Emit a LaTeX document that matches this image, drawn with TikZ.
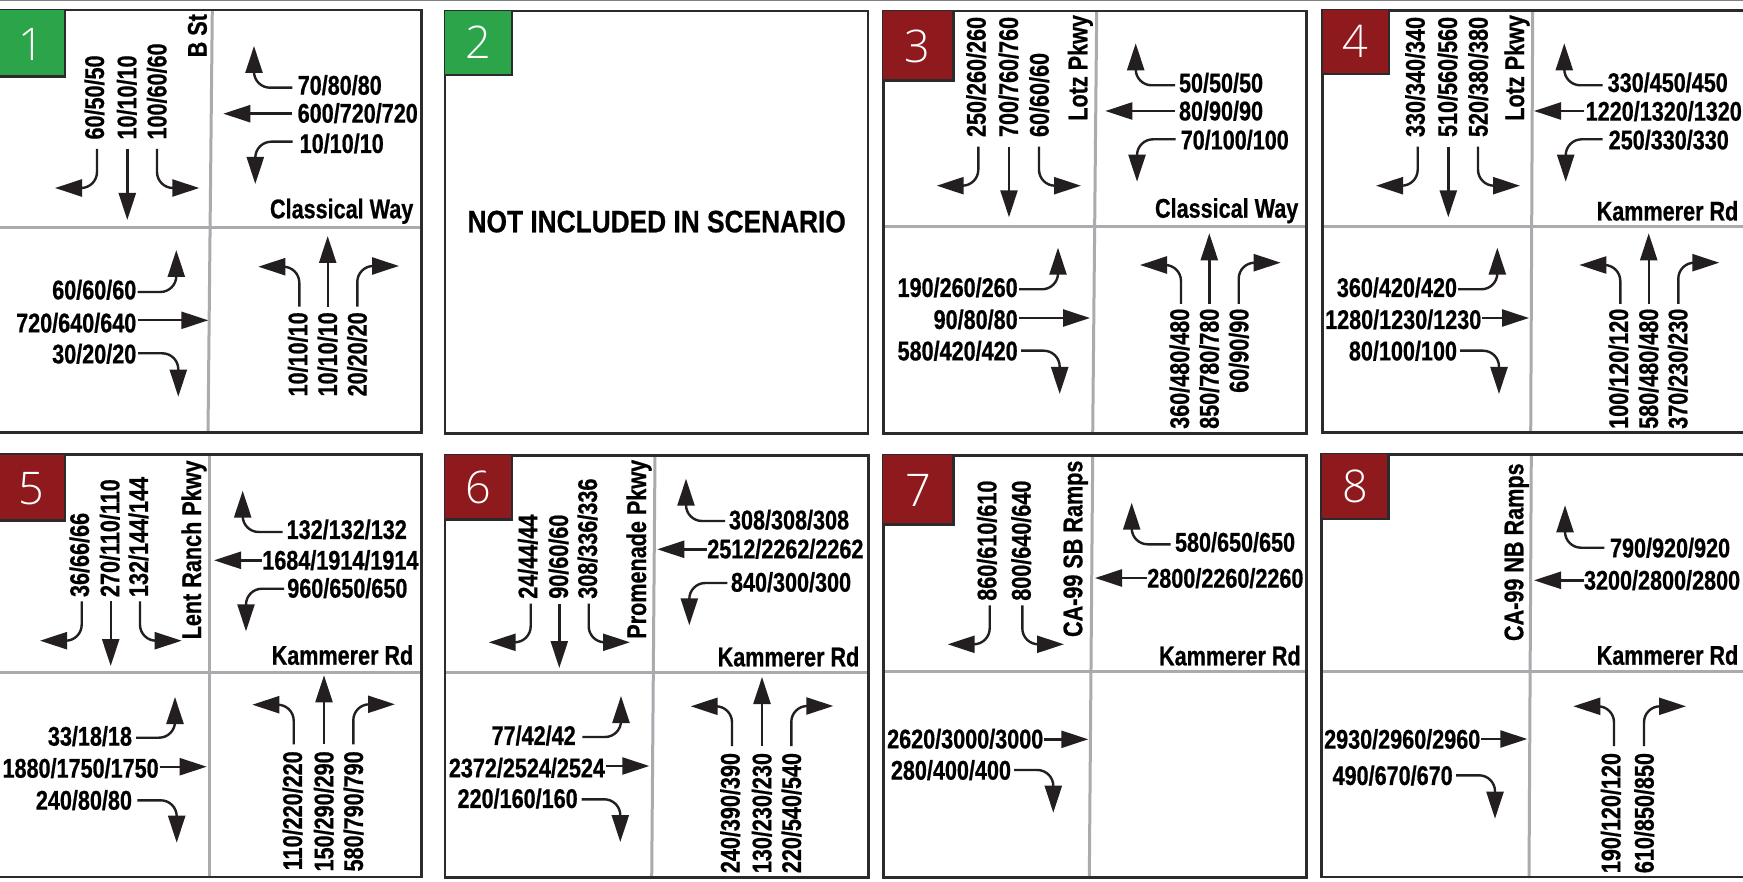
\documentclass[tikz,border=0pt]{standalone}
\usepackage{fontspec}
\usetikzlibrary{arrows.meta}
\setmainfont{Liberation Sans}
\newfontfamily\narrowf[FakeStretch=0.8,BoldFeatures={FakeStretch=0.8,FakeBold=0.7}]{Liberation Sans}
\newfontfamily\wideNf[FakeStretch=0.848,BoldFeatures={FakeStretch=0.848,FakeBold=0.7}]{Liberation Sans}
\newfontfamily\numf{Open Sans Light}
\definecolor{frameC}{HTML}{2B2A2C}
\definecolor{roadC}{HTML}{A9ABAE}
\definecolor{goodC}{HTML}{2BA44A}
\definecolor{badC}{HTML}{8F1A1E}
\definecolor{inkC}{HTML}{231F20}
\tikzset{
  lbl/.style={inner sep=0pt,outer sep=0pt,text height=19.3pt,text depth=0pt,
    font=\narrowf\bfseries\fontsize{27}{27}\selectfont,text=black},
  road/.style={inner sep=0pt,outer sep=0pt,font=\narrowf\bfseries\fontsize{27}{27}\selectfont,text=black},
  flow/.style={draw=inkC,line width=2.4pt,rounded corners=16pt,
    -{Triangle[length=27pt,width=17pt]}},
  frameline/.style={draw=frameC,line width=2.6pt},
  roadline/.style={draw=roadC,line width=3pt},
  badgenum/.style={inner sep=0pt,text=white,font=\numf\fontsize{45}{45}\selectfont}
}
\newcommand{\fl}[8]{% #1 name, #2 kind (T,B,L,R), #3 x, #4 y, #5 text, #6 sx,sy #7 tx,ty #8 op
  \def\kind{#2}%
  \def\tmpT{T}\def\tmpB{B}\def\tmpL{L}%
  \ifx\kind\tmpT \def\anch{west}\def\rot{90}\else
  \ifx\kind\tmpB \def\anch{east}\def\rot{90}\else
  \ifx\kind\tmpL \def\anch{east}\def\rot{0}\else
  \def\anch{west}\def\rot{0}\fi\fi\fi
  \node[lbl,rotate=\rot,anchor=\anch] (#1) at (#3,#4) {#5};
  \coordinate (#1t) at (#7);
  \coordinate (#1s) at (#6);
  \draw[flow] ([shift={(#1s)},shift={(-#3,-#4)}]#1.\anch) #8 (#1t);
}
\newcommand{\panel}[9]{% #1 l, #2 t, #3 r, #4 b, #5 vtop x, #6 vbot x, #7 hy, #8 badge x, #9 badge y
  \draw[roadline] (#5,#2) -- (#6,#4+1);
  \draw[roadline] (#1,#7) -- (#3,#7);
  \draw[frameline] (#1,#2) rectangle (#3,#4);
  \def\bx{#8}\def\by{#9}\def\pl{#1}\def\pt{#2}%
}
\newcommand{\badge}[5]{% #1 name, #2 colour, #3 digit, #4 cx, #5 cy
  \fill[#2] (\pl,\pt) rectangle (\bx,\by);
  \draw[frameline] (\pl,\by) -- (\bx,\by) -- (\bx,\pt);
  \node[badgenum] (#1) at (#4,#5) {#3};
}
\newcommand{\rv}[4]{\node[road,rotate=90,anchor=base west] (#1) at (#2,#3) {#4};}
\newcommand{\rh}[4]{\node[road,anchor=base east] (#1) at (#2,#3) {#4};}
\begin{document}
\begin{tikzpicture}[x=1pt,y=-1pt]
\useasboundingbox (0,0) rectangle (1743,882);
\fill[white] (0,0) rectangle (1743,882);
\draw[draw=gray,line width=1pt] (0,0.5) -- (1743,0.5);

% ---- 1
\panel{-3}{10}{421.7}{432.7}{212.3}{208}{227.7}{65}{76.3}
\badge{b1}{goodC}{1}{31}{44}
\rv{r1a}{206.7}{57.3}{B St}
\rh{r1b}{413.3}{218.3}{Classical Way}
\fl{a1}{T}{94.3}{139.5}{60/50/50}{97,149}{55,188}{|-}
\fl{a2}{T}{126.7}{139.5}{10/10/10}{127.3,149}{127.3,220}{--}
\fl{a3}{T}{156.7}{139.5}{100/60/60}{157,149}{199.3,188}{|-}
\fl{a4}{R}{297.7}{85}{70/80/80}{292.3,87.7}{254,46}{-|}
\fl{a5}{R}{297.7}{113}{600/720/720}{292,113.7}{223.3,113.7}{--}
\fl{a6}{R}{299.7}{143.3}{10/10/10}{292.7,141.7}{255.3,184}{-|}
\fl{a7}{L}{136.3}{289.7}{60/60/60}{137.5,292}{176.3,250}{-|}
\fl{a8}{L}{136.3}{322.7}{720/640/640}{137.5,320.3}{208.3,320.3}{--}
\fl{a9}{L}{136.3}{353.7}{30/20/20}{138,353.3}{178.3,396.7}{-|}
\fl{a10}{B}{297.7}{312.3}{10/10/10}{299.3,306.7}{258.3,266.7}{|-}
\fl{a11}{B}{327.3}{312.3}{10/10/10}{327.7,306.7}{327.7,236}{--}
\fl{a12}{B}{357}{312.3}{20/20/20}{357.3,306.7}{399,266}{|-}

% ---- 2
\draw[frameline] (445,11) rectangle (868,433.3);
\def\pl{445}\def\pt{11}\def\bx{512}\def\by{75}
\badge{b2}{goodC}{2}{478}{42.7}
\node[inner sep=0pt,anchor=base,text=black,font=\wideNf\bfseries\fontsize{31}{31}\selectfont] (n2) at (656.7,232.3) {NOT INCLUDED IN SCENARIO};

% ---- 3
\panel{883.3}{11}{1306.7}{433.3}{1096.7}{1092.7}{226.7}{953.3}{80.3}
\badge{b3}{badC}{3}{917.7}{46}
\rv{r3a}{1087.3}{120.7}{Lotz Pkwy}
\rh{r3b}{1298.3}{217.7}{Classical Way}
\fl{c1}{T}{976}{137}{250/260/260}{978.3,146.7}{936.7,185.7}{|-}
\fl{c2}{T}{1008.3}{137}{700/760/760}{1009,146.7}{1009,217.3}{--}
\fl{c3}{T}{1039}{137}{60/60/60}{1039,146.7}{1081,185.7}{|-}
\fl{c4}{R}{1179}{82.7}{50/50/50}{1175,85.3}{1135.7,43.3}{-|}
\fl{c5}{R}{1179}{110.7}{80/90/90}{1175,111}{1105.3,111}{--}
\fl{c6}{R}{1180.7}{139.7}{70/100/100}{1175.7,139.3}{1137,181.7}{-|}
\fl{c7}{L}{1017.7}{287.3}{190/260/260}{1019,289.3}{1058,247.7}{-|}
\fl{c8}{L}{1017.7}{319.3}{90/80/80}{1019,318}{1090,318}{--}
\fl{c9}{L}{1017.7}{350.7}{580/420/420}{1021,350.7}{1059.7,394}{-|}
\fl{c10}{B}{1179.3}{308.7}{360/480/480}{1181,304}{1140,265}{|-}
\fl{c11}{B}{1209}{308.7}{850/780/780}{1209.3,304}{1209.3,233.3}{--}
\fl{c12}{B}{1238.7}{308.7}{60/90/90}{1238.7,304}{1280.7,262.7}{|-}

% ---- 4
\panel{1322.7}{10.3}{1760}{432.3}{1532.7}{1530.7}{226.7}{1389}{74}
\badge{b4}{badC}{4}{1355.7}{41.7}
\rv{r4a}{1524}{120.7}{Lotz Pkwy}
\rh{r4b}{1738.3}{220.5}{Kammerer Rd}
\fl{d1}{T}{1415}{137}{330/340/340}{1417.7,146.7}{1376,185.7}{|-}
\fl{d2}{T}{1447.3}{137}{510/560/560}{1448.3,146.7}{1448.3,217.3}{--}
\fl{d3}{T}{1478}{137}{520/380/380}{1478,146.7}{1520,185.7}{|-}
\fl{d4}{R}{1607.7}{82.3}{330/450/450}{1602.7,85.3}{1564.3,43.3}{-|}
\fl{d5}{R}{1585.7}{111}{1220/1320/1320}{1584.3,111}{1534,111}{--}
\fl{d6}{R}{1608.7}{139.7}{250/330/330}{1602.7,139.3}{1565.7,181.7}{-|}
\fl{d7}{L}{1457}{287.3}{360/420/420}{1458,289.3}{1497.3,247.7}{-|}
\fl{d8}{L}{1481.3}{319.3}{1280/1230/1230}{1482,318}{1529,318}{--}
\fl{d9}{L}{1457}{350.7}{80/100/100}{1460,350.7}{1499,394}{-|}
\fl{d10}{B}{1618.3}{308.7}{100/120/120}{1620.3,304}{1579.3,265}{|-}
\fl{d11}{B}{1648.3}{308.7}{580/480/480}{1648.7,304}{1648.7,233.3}{--}
\fl{d12}{B}{1677.7}{308.7}{370/230/230}{1678.3,304}{1719.3,262.7}{|-}

% ---- 5
\panel{-3}{454.7}{421.7}{877}{209.3}{209.3}{672}{65}{520.7}
\badge{b5}{badC}{5}{31.3}{488.7}
\rv{r5a}{201}{639.3}{Lent Ranch Pkwy}
\rh{r5b}{413.3}{664.7}{Kammerer Rd}
\fl{e1}{T}{79.3}{597}{36/66/66}{81.7,601.3}{40,640.7}{|-}
\fl{e2}{T}{109.7}{597}{270/110/110}{110.7,601.3}{110.7,666}{--}
\fl{e3}{T}{138.3}{597}{132/144/144}{140,601.3}{181.7,640.7}{|-}
\fl{e4}{R}{286.7}{529.3}{132/132/132}{282.7,532}{242.7,490.7}{-|}
\fl{e5}{R}{262.3}{560}{1684/1914/1914}{261.7,560.3}{214,560.3}{--}
\fl{e6}{R}{287.3}{588}{960/650/650}{284,588.7}{246,631.3}{-|}
\fl{e7}{L}{132}{736}{33/18/18}{136,737.7}{175,697}{-|}
\fl{e8}{L}{158.7}{768}{1880/1750/1750}{159.5,766.7}{206.7,766.7}{--}
\fl{e9}{L}{132}{800}{240/80/80}{137.3,800.3}{176.7,842.7}{-|}
\fl{e10}{B}{292.3}{751.3}{110/220/220}{293.7,744.3}{252.3,704.7}{|-}
\fl{e11}{B}{323.7}{751.3}{150/290/290}{324,744.3}{324,675.3}{--}
\fl{e12}{B}{353.3}{751.3}{580/790/790}{353.3,744.3}{395,704.3}{|-}

% ---- 6
\panel{445}{455.3}{868.3}{877.7}{655}{651.7}{672}{512}{519.7}
\badge{b6}{badC}{6}{478}{487}
\rv{r6a}{646}{638.7}{Promenade Pkwy}
\rh{r6b}{859.3}{666.3}{Kammerer Rd}
\fl{f1}{T}{527.7}{598.7}{24/44/44}{530.7,603.7}{488.7,642.3}{|-}
\fl{f2}{T}{558.3}{598.7}{90/60/60}{559.3,603.7}{559.3,668}{--}
\fl{f3}{T}{587.3}{598.7}{308/336/336}{588.7,603.7}{630,642.3}{|-}
\fl{f4}{R}{729}{519.7}{308/308/308}{725,521}{686,478.7}{-|}
\fl{f5}{R}{707.3}{548.7}{2512/2262/2262}{707,549.3}{657.3,549.3}{--}
\fl{f6}{R}{731}{582}{840/300/300}{727.3,583}{689.3,625.3}{-|}
\fl{f7}{L}{575.7}{735.3}{77/42/42}{582.3,737}{621,696}{-|}
\fl{f8}{L}{605}{767.7}{2372/2524/2524}{605.5,766}{649.3,766}{--}
\fl{f9}{L}{577.7}{798.3}{220/160/160}{581.7,799.3}{620.3,842}{-|}
\fl{f10}{B}{730}{753}{240/390/390}{732,746}{690.7,706.3}{|-}
\fl{f11}{B}{761.7}{753}{130/230/230}{762,746}{762,677}{--}
\fl{f12}{B}{791.3}{753}{220/540/540}{791.3,746}{833.3,706}{|-}

% ---- 7
\panel{883.3}{455.3}{1306.7}{877.7}{1092.7}{1089.3}{671.7}{953.3}{524.7}
\badge{b7}{badC}{7}{918.3}{490.3}
\rv{r7a}{1082.3}{637}{CA-99 SB Ramps}
\rh{r7b}{1300.7}{665.3}{Kammerer Rd}
\fl{g1}{T}{986.7}{600.7}{860/610/610}{989.7,605.3}{947.7,644.3}{|-}
\fl{g2}{T}{1021}{600.7}{800/640/640}{1022.3,605.3}{1064,644.3}{|-}
\fl{g3}{R}{1175}{542}{580/650/650}{1170.7,544.3}{1131.7,502.7}{-|}
\fl{g4}{R}{1147.3}{578}{2800/2260/2260}{1147,578}{1095,578}{--}
\fl{g5}{L}{1043.3}{738.7}{2620/3000/3000}{1044,739.3}{1088.3,739.3}{--}
\fl{g6}{L}{1011}{770}{280/400/400}{1014,770}{1053.3,812.7}{-|}

% ---- 8
\panel{1321.7}{454.3}{1760}{877}{1531.3}{1529}{671.3}{1388.7}{519}
\badge{b8}{badC}{8}{1355}{486}
\rv{r8a}{1523.3}{641}{CA-99 NB Ramps}
\rh{r8b}{1738.3}{664.7}{Kammerer Rd}
\fl{h1}{R}{1610}{547.7}{790/920/920}{1604.3,547.7}{1565,505.3}{-|}
\fl{h2}{R}{1584}{580}{3200/2800/2800}{1583.5,580.3}{1534,580.3}{--}
\fl{h3}{L}{1480.3}{739}{2930/2960/2960}{1481,739}{1527.3,739}{--}
\fl{h4}{L}{1452.7}{775.3}{490/670/670}{1456,775.3}{1495,818.7}{-|}
\fl{h5}{B}{1610.7}{753}{190/120/120}{1614,746}{1573.3,706.3}{|-}
\fl{h6}{B}{1644}{753}{610/850/850}{1644,746}{1686,706.3}{|-}
\end{tikzpicture}
\end{document}
